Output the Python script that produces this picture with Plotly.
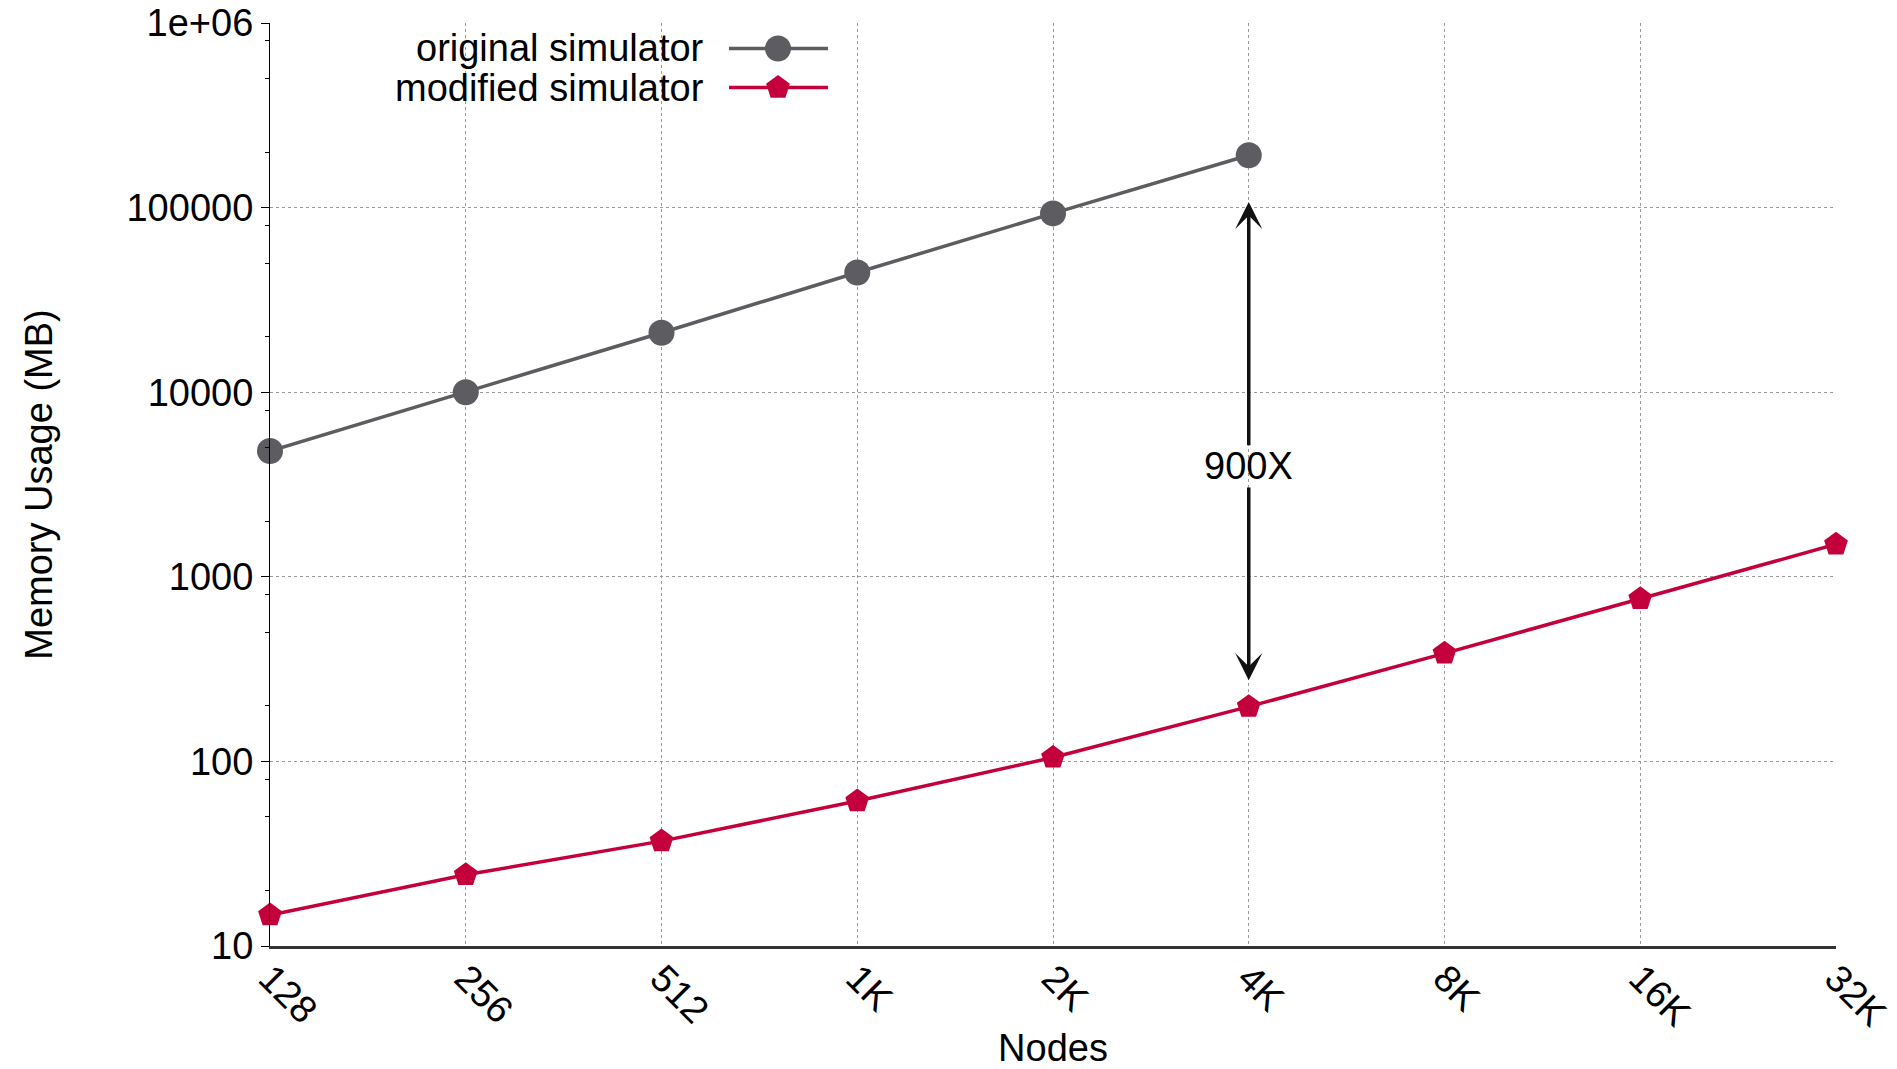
import numpy as np
import plotly.graph_objects as go

# Cluster sizes (number of simulated nodes)
nodes = ["128", "256", "512", "1K", "2K", "4K", "8K", "16K", "32K"]

# Peak memory usage in MB
original_mem = [4800, 10000, 21000, 44500, 93000, 192000]
modified_mem = [14.7, 24.3, 37, 61, 105, 198, 385, 760, 1500]

series_names = ["original simulator", "modified simulator"]
gray = "#5d5d61"
crimson = "#c3003b"
font_family = "Liberation Sans, Arial, sans-serif"

fig = go.Figure()

fig.add_trace(go.Scatter(
    x=nodes[:len(original_mem)], y=original_mem, mode="lines+markers",
    name=series_names[0], showlegend=False, cliponaxis=False,
    line=dict(color=gray, width=3.5),
    marker=dict(symbol="circle", size=26, color=gray),
))
fig.add_trace(go.Scatter(
    x=nodes, y=modified_mem, mode="lines+markers",
    name=series_names[1], showlegend=False, cliponaxis=False,
    line=dict(color=crimson, width=3.5),
    marker=dict(symbol="pentagon", size=25, color=crimson),
))

# Hand-placed key: text on the left, line sample with marker on the right
key_rows = [0.9724, 0.930]
key_styles = [(gray, "circle", 26), (crimson, "pentagon", 25)]
for name, yk, (col, sym, sz) in zip(series_names, key_rows, key_styles):
    fig.add_trace(go.Scatter(
        x=[0.2931, 0.3563], y=[yk, yk], mode="lines", xaxis="x2", yaxis="y2",
        line=dict(color=col, width=3.5), showlegend=False, hoverinfo="skip",
    ))
    fig.add_trace(go.Scatter(
        x=[0.3244], y=[yk], mode="markers", xaxis="x2", yaxis="y2",
        marker=dict(symbol=sym, size=sz, color=col), showlegend=False, hoverinfo="skip",
    ))
    fig.add_annotation(
        xref="paper", yref="paper", x=0.2785, y=yk, text=name, showarrow=False,
        xanchor="right", yanchor="middle", font=dict(size=38, color="black", family=font_family),
    )

# Gap annotation between the two series at 4K nodes
gap_x = nodes.index("4K")
fig.add_annotation(x=gap_x, y=3.60, xref="x", yref="y", text="900X", showarrow=False,
                   font=dict(size=38, color="black", family=font_family))
for tip, tail in [(5.03, 3.705), (2.44, 3.492)]:
    fig.add_annotation(
        x=gap_x, y=tip, ax=gap_x, ay=tail, xref="x", yref="y", axref="x", ayref="y",
        text="", showarrow=True, arrowhead=3, arrowsize=1.3, arrowwidth=3.5,
        arrowcolor="#111111", standoff=0, startstandoff=0,
    )

minor_vals = []
for d in range(1, 6):
    minor_vals += [2 * 10 ** d, 5 * 10 ** d, 8 * 10 ** d]

fig.update_layout(
    width=1897, height=1069,
    margin=dict(l=270, r=61, t=23, b=123),
    paper_bgcolor="white", plot_bgcolor="white",
    font=dict(family=font_family, size=38, color="black"),
    xaxis=dict(
        type="category", categoryorder="array", categoryarray=nodes,
        range=[0, len(nodes) - 1], automargin=False,
        tickangle=45, tickfont=dict(size=38), ticklabelstandoff=-8,
        showgrid=True, gridcolor="#9a9a9a", griddash="dot", gridwidth=1.2,
        showline=True, linecolor="#333333", linewidth=2.5,
        ticks="", zeroline=False,
        title=dict(text="Nodes", font=dict(size=38), standoff=10),
    ),
    yaxis=dict(
        type="log", range=[1, 6], automargin=False,
        tickvals=[10, 100, 1000, 10000, 100000, 1000000],
        ticktext=["10", "100", "1000", "10000", "100000", "1e+06"],
        tickfont=dict(size=38),
        showgrid=True, gridcolor="#9a9a9a", griddash="dot", gridwidth=1.2,
        showline=True, linecolor="black", linewidth=1.2,
        ticks="outside", ticklen=8, tickwidth=1.2, tickcolor="black",
        minor=dict(tickvals=minor_vals, ticks="outside", ticklen=4, tickwidth=1.2,
                   tickcolor="black", showgrid=False),
        zeroline=False,
        title=dict(text="Memory Usage (MB)", font=dict(size=38), standoff=62),
    ),
    xaxis2=dict(domain=[0, 1], range=[0, 1], overlaying="x", visible=False),
    yaxis2=dict(domain=[0, 1], range=[0, 1], overlaying="y", visible=False),
)

fig.write_html("out.html")
